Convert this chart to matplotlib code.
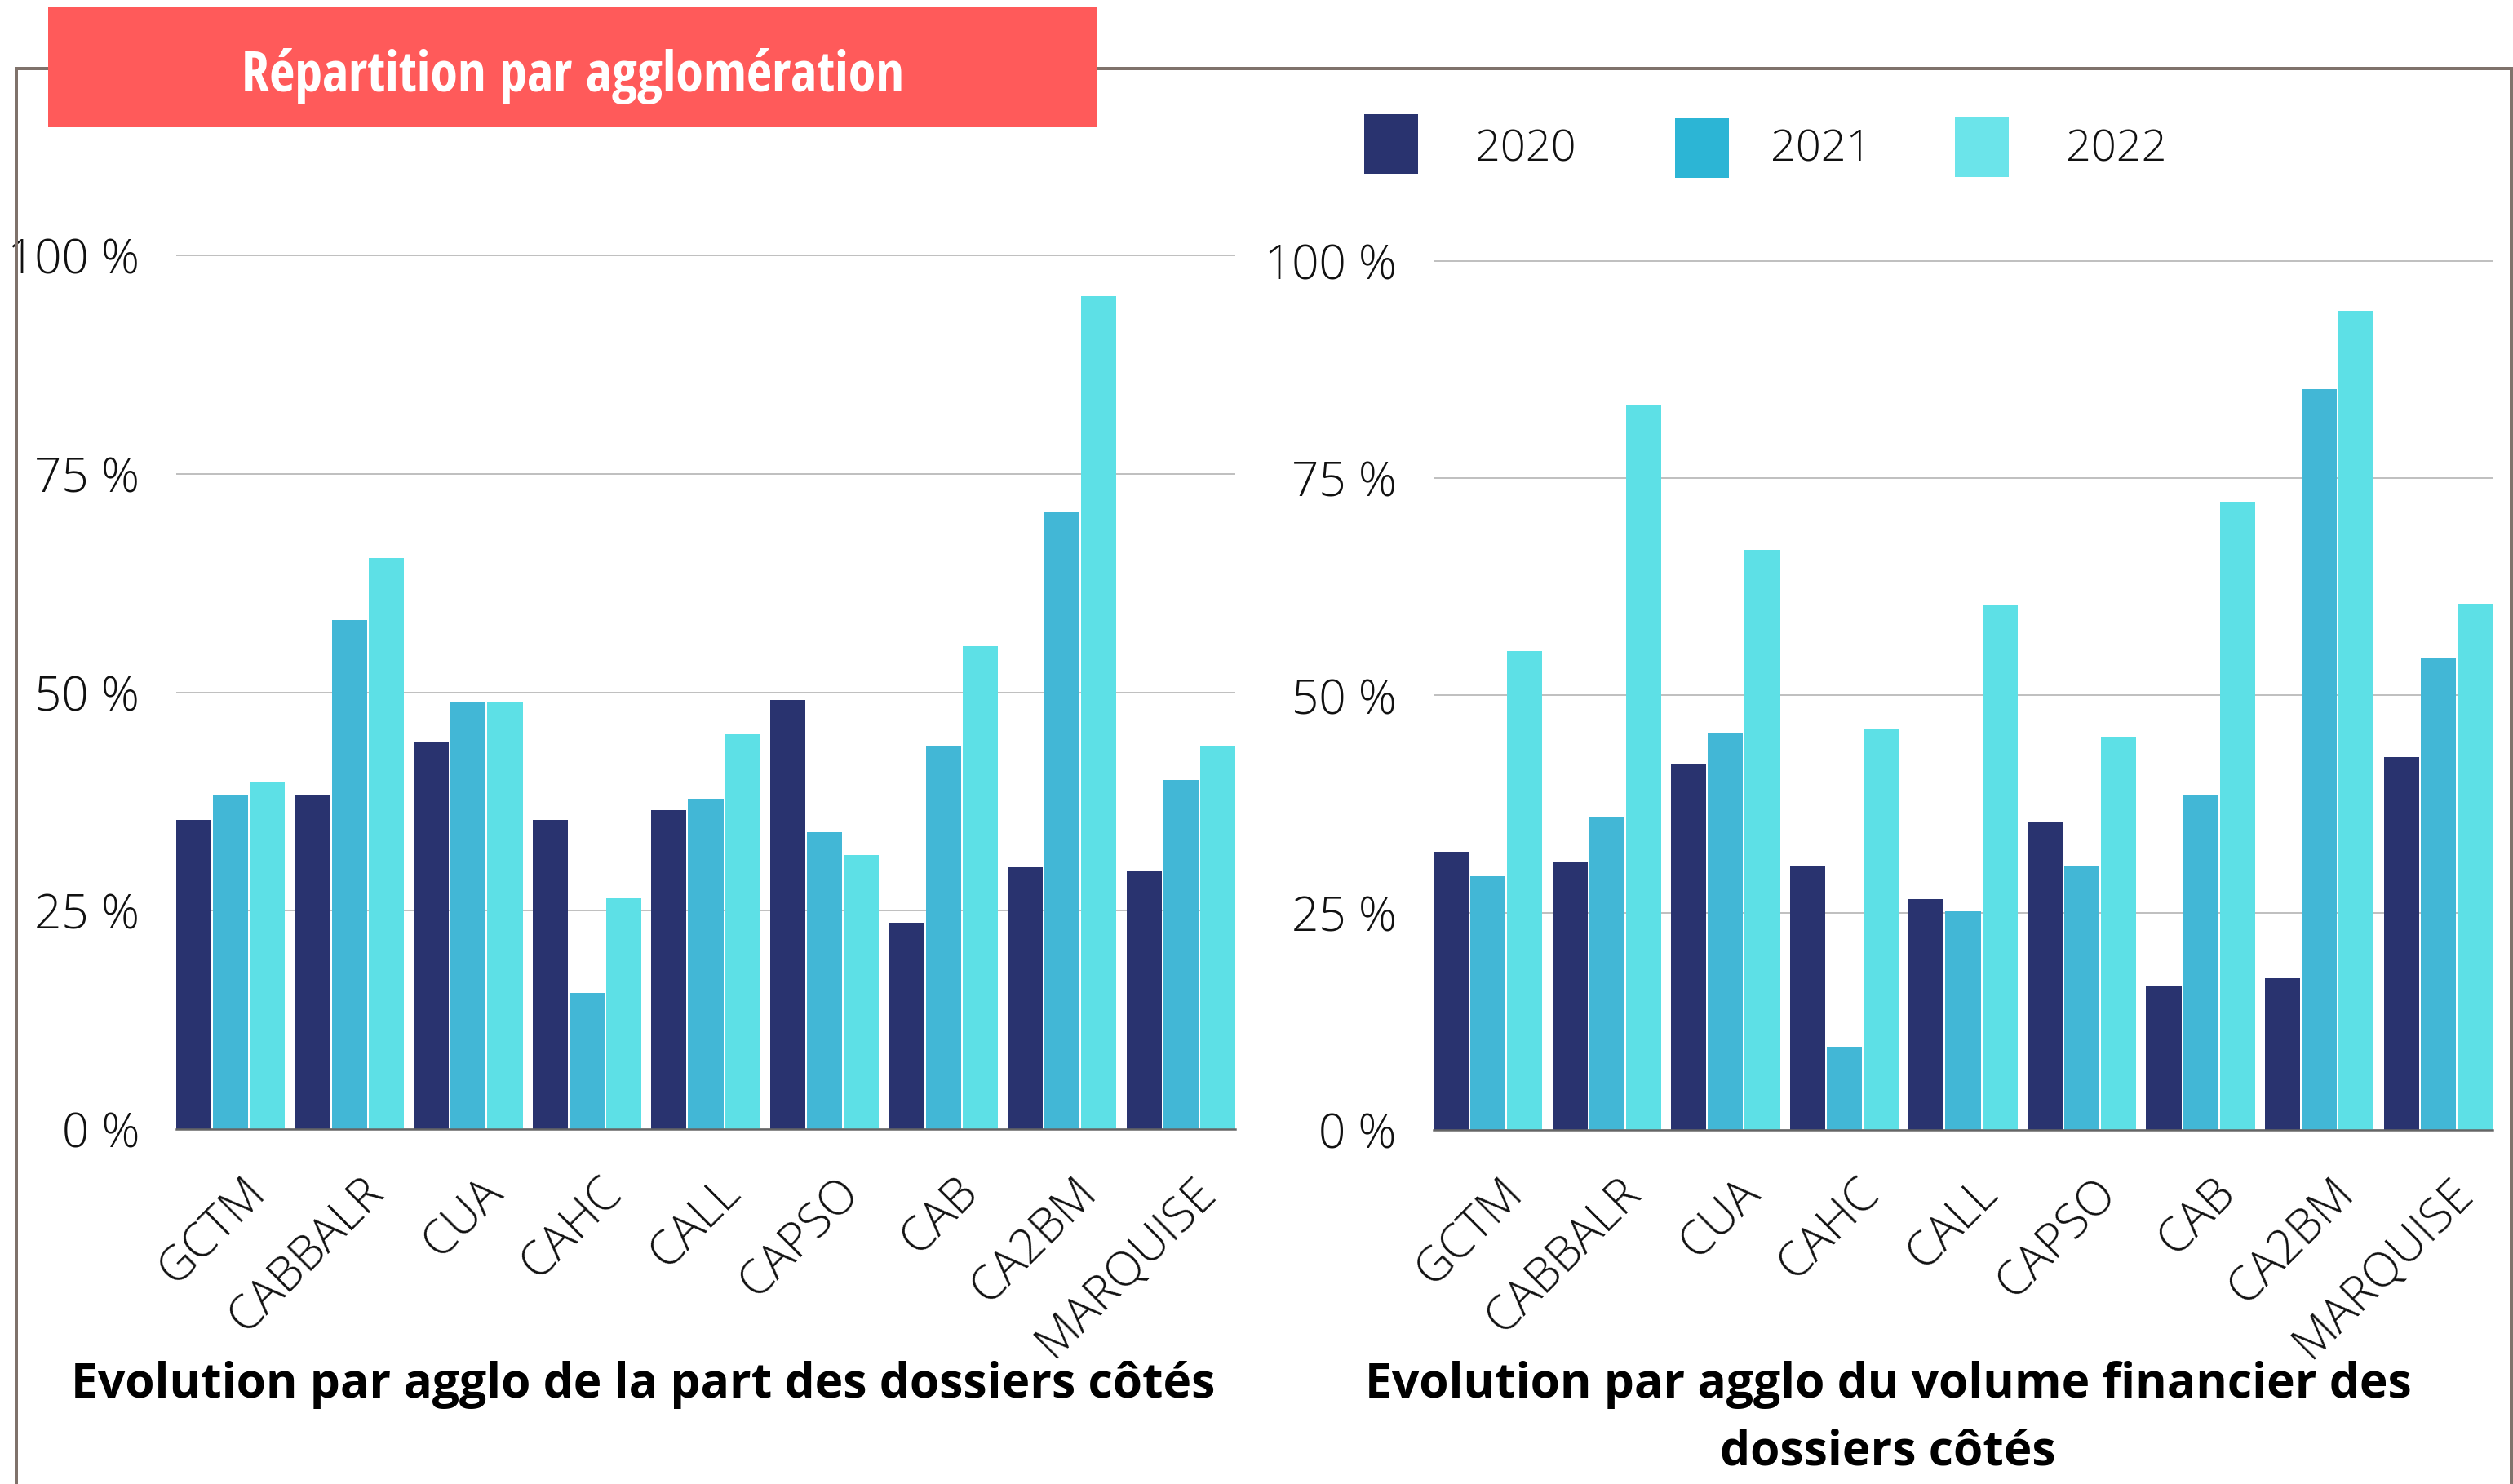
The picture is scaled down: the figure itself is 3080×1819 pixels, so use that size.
import matplotlib
matplotlib.use('Agg')
import matplotlib.pyplot as plt
from matplotlib import font_manager as fm
from matplotlib.patches import Rectangle
from matplotlib.lines import Line2D
from matplotlib.transforms import ScaledTranslation
import numpy as np

# ---------------- data ----------------
categories = ['GCTM', 'CABBALR', 'CUA', 'CAHC', 'CALL', 'CAPSO', 'CAB', 'CA2BM', 'MARQUISE']
years = ['2020', '2021', '2022']
part_2020 = [35.4, 38.2, 44.3, 35.4, 36.5, 49.1, 23.6, 30.0, 29.5]
part_2021 = [38.2, 58.3, 48.9, 15.6, 37.8, 34.0, 43.8, 70.7, 40.0]
part_2022 = [39.8, 65.4, 48.9, 26.4, 45.2, 31.4, 55.3, 95.3, 43.8]
vol_2020 = [32.0, 30.8, 42.1, 30.4, 26.6, 35.5, 16.5, 17.5, 42.9]
vol_2021 = [29.2, 36.0, 45.6, 9.6, 25.2, 30.4, 38.5, 85.3, 54.4]
vol_2022 = [55.1, 83.5, 66.8, 46.2, 60.5, 45.3, 72.3, 94.3, 60.6]
yticks = [0, 25, 50, 75, 100]
ytick_labels = ['0 %', '25 %', '50 %', '75 %', '100 %']
title_main = 'Répartition par agglomération'
title_left = 'Evolution par agglo de la part des dossiers côtés'
title_right = ['Evolution par agglo du volume financier des', 'dossiers côtés']

bar_colors = ['#29336F', '#42B7D6', '#5DE0E6']
legend_colors = ['#29336F', '#2CB5D5', '#6BE4EA']

# ---------------- fonts ----------------
names = {f.name for f in fm.fontManager.ttflist}
base_font = 'Open Sans' if 'Open Sans' in names else 'DejaVu Sans'

# ---------------- figure ----------------
W, H, DPI = 3080, 1819, 100
fig = plt.figure(figsize=(W / DPI, H / DPI), dpi=DPI)
fig.patch.set_facecolor('white')
renderer = fig.canvas.get_renderer()


def fx(px):
    return px / W


def fy(py):
    return 1 - py / H


def px2pt(px):
    return px * 72 / DPI


TITLE_WEIGHT = 600

# choose the narrowest installed sans family/stretch for the banner title
cands = set()
for f in fm.fontManager.ttflist:
    if f.name in ('Roboto', 'Roboto Condensed', 'Open Sans', 'Open Sans Condensed', 'Noto Sans',
                  'Noto Sans Condensed', 'DejaVu Sans', 'DejaVu Sans Condensed', 'Liberation Sans',
                  'Liberation Sans Narrow', 'Lato', 'Inter'):
        cands.add((f.name, f.stretch))
best = ('DejaVu Sans', 'normal')
best_w = None
for name, stretch in sorted(cands, key=str):
    try:
        fp = fm.FontProperties(family=name, stretch=stretch, weight=TITLE_WEIGHT, size=60)
        fm.findfont(fp, fallback_to_default=False)
        t = fig.text(0, 0, title_main, fontproperties=fp)
        w = t.get_window_extent(renderer).width
        t.remove()
        if best_w is None or w < best_w:
            best_w, best = w, (name, stretch)
    except Exception:
        pass
cond_family, cond_stretch = best

# frame
frame_col = '#7F726B'
fw = px2pt(4)
fig.add_artist(Line2D([fx(20), fx(3078)], [fy(84), fy(84)], color=frame_col, lw=fw,
                      transform=fig.transFigure, solid_capstyle='projecting'))
fig.add_artist(Line2D([fx(20), fx(20)], [fy(84), fy(1819)], color=frame_col, lw=fw,
                      transform=fig.transFigure))
fig.add_artist(Line2D([fx(3078), fx(3078)], [fy(84), fy(1819)], color=frame_col, lw=fw,
                      transform=fig.transFigure))

# red title box
fig.add_artist(Rectangle((fx(59), fy(156)), fx(1345) - fx(59), fy(8) - fy(156),
                         transform=fig.transFigure, facecolor='#FF5A5A', edgecolor='none', zorder=3))
tt = fig.text(fx(702), fy(112), title_main, ha='center', va='baseline', color='white',
              family=cond_family, fontstretch=cond_stretch, fontweight=TITLE_WEIGHT,
              fontsize=60, zorder=4)
bb = tt.get_window_extent(renderer)
tt.set_fontsize(min(60 * 812 / bb.width, 62))

# legend
leg_rects = [(1672, 140), (2053, 145), (2396, 144)]
leg_text_x = [1808, 2170, 2532]
for (lx, ly), col, yr, tx in zip(leg_rects, legend_colors, years, leg_text_x):
    fig.add_artist(Rectangle((fx(lx), fy(ly + 73)), 66 / W, 73 / H, transform=fig.transFigure,
                             facecolor=col, edgecolor='none'))
    fig.text(fx(tx), fy(197), yr, ha='left', va='baseline', fontsize=39,
             family=base_font, fontweight='light', color='#111111')

pitch, bw = 0.31, 0.296
xs = np.arange(len(categories))


def make_chart(x0, x1, y_zero, y_hundred, series):
    top = 102
    ppu = (y_zero - y_hundred) / 100
    ytop = y_zero - top * ppu
    ax = fig.add_axes([fx(x0), fy(y_zero), (x1 - x0) / W, (y_zero - ytop) / H])
    ax.set_ylim(0, top)
    for k, (vals, col) in enumerate(zip(series, bar_colors)):
        ax.bar(xs + (k - 1) * pitch, vals, width=bw, color=col, linewidth=0, zorder=2)
    ax.set_xlim(-pitch - bw / 2, len(categories) - 1 + pitch + bw / 2)
    for s in ['top', 'right', 'left']:
        ax.spines[s].set_visible(False)
    ax.spines['bottom'].set_color('#666666')
    ax.spines['bottom'].set_linewidth(px2pt(2.5))
    ax.spines['bottom'].set_zorder(3)
    ax.set_yticks(yticks)
    ax.set_yticklabels(ytick_labels, family=base_font, fontweight='light', fontsize=42,
                       color='#111111')
    ax.yaxis.grid(True, color='#C0C0C0', linewidth=px2pt(2))
    ax.set_axisbelow(True)
    ax.tick_params(axis='y', length=0, pad=px2pt(45))
    ax.set_xticks(xs)
    ax.set_xticklabels(categories, rotation=45, ha='right', va='top', rotation_mode='anchor',
                       family=base_font, fontweight='light', fontsize=42, color='#111111')
    ax.tick_params(axis='x', length=0, pad=0)
    off = ScaledTranslation(13 / DPI, -48 / DPI, fig.dpi_scale_trans)
    for lab in ax.get_xticklabels():
        lab.set_transform(lab.get_transform() + off)
    ax.set_facecolor('none')
    return ax


make_chart(216, 1514, 1384, 313, [part_2020, part_2021, part_2022])
make_chart(1757, 3055, 1385, 320, [vol_2020, vol_2021, vol_2022])

# bottom titles
fig.text(fx(788), fy(1713), title_left, ha='center', va='baseline', fontsize=42.3,
         family=base_font, fontweight='bold', color='black')
fig.text(fx(2314), fy(1713), title_right[0], ha='center', va='baseline', fontsize=42.3,
         family=base_font, fontweight='bold', color='black')
fig.text(fx(2314), fy(1795), title_right[1], ha='center', va='baseline', fontsize=42.3,
         family=base_font, fontweight='bold', color='black')

fig.savefig('out.png', dpi=DPI, facecolor='white')
